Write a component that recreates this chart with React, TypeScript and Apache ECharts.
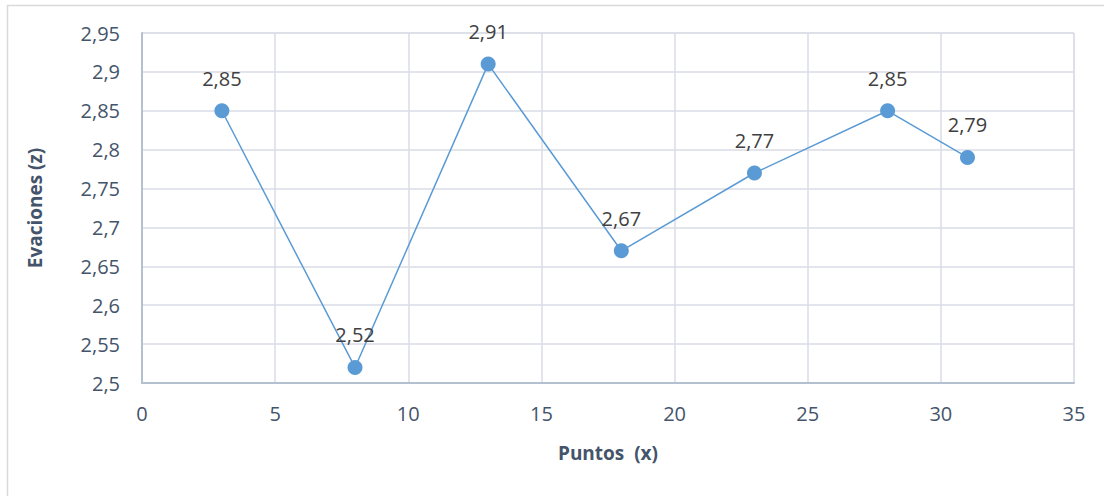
import React, { useEffect, useRef } from "react";
import * as echarts from "echarts";

const xValues = [3, 8, 13, 18, 23, 28, 31];
const yValues = [2.85, 2.52, 2.91, 2.67, 2.77, 2.85, 2.79];
const xAxisTitle = "Puntos  (x)";
const yAxisTitle = "Evaciones (z)";

const fmt = (v: number) => String(Math.round(v * 100) / 100).replace(".", ",");

export default function App() {
  const ref = useRef<HTMLDivElement>(null);
  useEffect(() => {
    if (!ref.current) return;
    const chart = echarts.init(ref.current, undefined, { renderer: "svg" });
    const font = "'Open Sans', 'Liberation Sans', sans-serif";
    chart.setOption({
      animation: false,
      backgroundColor: "#ffffff",
      graphic: [
        {
          type: "rect",
          shape: { x: 7.5, y: 5.5, width: 1200, height: 600 },
          style: { fill: "none", stroke: "#d9d9d9", lineWidth: 1.5 },
          silent: true,
        },
      ],
      grid: { left: 142, right: 30, top: 33, bottom: 113, show: true, borderColor: "#d9d9d9", borderWidth: 1 },
      xAxis: {
        type: "value",
        min: 0,
        max: 35,
        interval: 5,
        name: xAxisTitle,
        nameLocation: "middle",
        nameGap: 60,
        nameTextStyle: { fontFamily: font, fontSize: 19, fontWeight: "bold", color: "#44546a" },
        axisLine: { show: true, lineStyle: { color: "#b4bfcf", width: 2 } },
        axisTick: { show: false },
        splitLine: { show: true, lineStyle: { color: "#d9dde5", width: 1.5 } },
        axisLabel: { fontFamily: font, fontSize: 20, color: "#44546a", margin: 20, formatter: (v: number) => fmt(v) },
      },
      yAxis: {
        type: "value",
        min: 2.5,
        max: 2.95,
        interval: 0.05,
        name: yAxisTitle,
        nameLocation: "middle",
        nameGap: 98,
        nameTextStyle: { fontFamily: font, fontSize: 19, fontWeight: "bold", color: "#44546a" },
        axisLine: { show: true, lineStyle: { color: "#b4bfcf", width: 2 } },
        axisTick: { show: false },
        splitLine: { show: true, lineStyle: { color: "#d9dde5", width: 1.5 } },
        axisLabel: { fontFamily: font, fontSize: 20, color: "#44546a", margin: 22, formatter: (v: number) => fmt(v) },
      },
      series: [
        {
          type: "line",
          data: xValues.map((x, i) => [x, yValues[i]]),
          symbol: "circle",
          symbolSize: 15,
          lineStyle: { color: "#5b9bd5", width: 1.5 },
          itemStyle: { color: "#5b9bd5" },
          label: {
            show: true,
            position: "top",
            distance: 15,
            fontFamily: font,
            fontSize: 20,
            color: "#404040",
            formatter: (p: any) => fmt(p.value[1]),
          },
        },
      ],
    });
    return () => chart.dispose();
  }, []);
  return <div ref={ref} style={{ position: "absolute", left: 0, top: 0, width: 1104, height: 496 }} />;
}
